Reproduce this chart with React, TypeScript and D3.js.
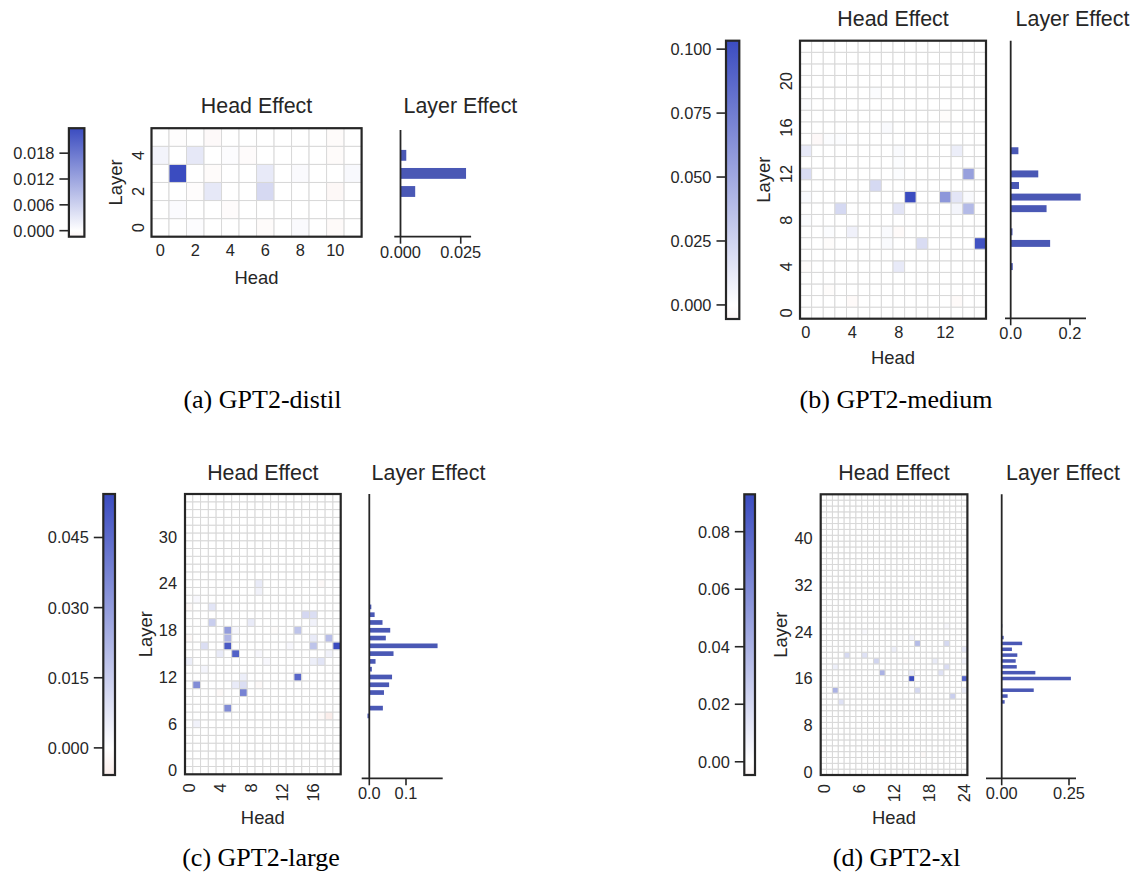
import React from 'react';
import * as d3 from 'd3';

type Cell = [number, number, number]; // [layer, head, value]

// ---------- (a) GPT2-distil ----------
const distilHeadCount = 12;
const distilLayerCount = 6;
const distilCells: Cell[] = [
  [3, 1, 0.0238], [4, 0, 0.0015], [4, 2, 0.003], [2, 3, 0.003], [3, 6, 0.0028], [2, 6, 0.005],
  [5, 3, -0.0008], [3, 3, -0.0006], [4, 5, -0.0005], [5, 10, -0.0006], [4, 10, -0.0006],
  [2, 10, -0.001], [0, 10, -0.0007], [0, 6, -0.0006], [1, 4, -0.0005], [2, 2, -0.0004],
  [3, 11, 0.0008], [3, 8, 0.0006], [1, 1, 0.0005], [0, 2, 0.0004], [5, 1, -0.0003], [4, 4, 0.0004], [0, 8, 0.0006],
];
const distilLayerEffect = [0, 0, 0.0061, 0.0272, 0.0024, 0];
const distilCbDomain = [-0.0014, 0.0238];
const distilCbTicks = [0, 0.006, 0.012, 0.018];
const distilBarDomain = [-0.00257, 0.0293];
const distilBarTicks = [0, 0.025];
const distilHeadTicks = [0, 2, 4, 6, 8, 10];
const distilLayerTicks = [0, 2, 4];

// ---------- (b) GPT2-medium ----------
const mediumHeadCount = 16;
const mediumLayerCount = 24;
const mediumCells: Cell[] = [
  [14, 0, 0.012], [12, 0, 0.02], [14, 13, 0.01], [12, 14, 0.055], [11, 6, 0.022], [10, 9, 0.1033],
  [10, 12, 0.06], [10, 13, 0.015], [10, 14, 0.003], [9, 3, 0.022], [9, 8, 0.015], [9, 13, 0.006],
  [9, 14, 0.04], [10, 0, 0.003], [7, 4, 0.008], [6, 10, 0.02], [6, 15, 0.1], [4, 8, 0.012],
  [15, 1, -0.004], [18, 0, 0.002], [19, 6, 0.002], [16, 7, 0.003], [17, 12, -0.002], [2, 2, -0.002],
  [1, 4, -0.003], [1, 13, -0.003], [6, 2, -0.002], [7, 8, -0.003], [4, 0, -0.002], [15, 2, 0.002],
  [15, 3, 0.002], [8, 0, 0.002], [7, 2, 0.002], [13, 8, 0.002], [14, 8, 0.003], [12, 8, 0.002],
  [7, 7, 0.003], [6, 7, 0.003],
];
const mediumLayerEffect = [0, 0, 0, 0, 0.007, 0, 0.133, 0.006, 0, 0.121, 0.236, 0.028, 0.093, 0, 0.026, 0, 0, 0, 0, 0, 0, 0, 0, 0];
const mediumCbDomain = [-0.0055, 0.1033];
const mediumCbTicks = [0, 0.025, 0.05, 0.075, 0.1];
const mediumBarDomain = [-0.0192, 0.254];
const mediumBarTicks = [0, 0.2];
const mediumHeadTicks = [0, 4, 8, 12];
const mediumLayerTicks = [0, 4, 8, 12, 16, 20];

// ---------- (c) GPT2-large ----------
const largeHeadCount = 20;
const largeLayerCount = 36;
const largeCells: Cell[] = [
  [16, 19, 0.0543], [18, 5, 0.03], [17, 5, 0.022], [16, 5, 0.05], [15, 6, 0.048], [12, 14, 0.046],
  [11, 1, 0.035], [10, 7, 0.038], [8, 5, 0.035], [19, 3, 0.015], [21, 3, 0.008], [16, 2, 0.01],
  [15, 4, 0.006], [14, 0, 0.005], [18, 14, 0.018], [20, 15, 0.012], [20, 16, 0.01], [16, 16, 0.018],
  [17, 18, 0.02], [14, 17, 0.008], [14, 16, 0.005], [15, 18, 0.004], [11, 6, 0.006], [11, 7, 0.01],
  [12, 7, 0.005], [24, 9, 0.006], [23, 9, 0.004], [19, 8, 0.006], [7, 18, -0.0058], [6, 1, 0.004],
  [17, 0, -0.002], [21, 0, -0.002], [24, 17, -0.002], [13, 2, 0.003], [19, 16, 0.004], [17, 16, 0.006],
  [22, 1, 0.002], [18, 6, 0.002], [16, 13, 0.002], [15, 9, 0.002], [14, 10, 0.002], [10, 4, -0.002],
  [18, 11, -0.001], [11, 9, -0.002], [7, 17, -0.002],
];
const largeLayerEffect = [0, 0, 0, 0, 0, 0, 0, -0.005, 0.037, 0, 0.04, 0.054, 0.062, 0.007, 0.017, 0.066, 0.186, 0.045, 0.057, 0.036, 0.0145, 0.0055, 0, 0, 0, 0, 0, 0, 0, 0, 0, 0, 0, 0, 0, 0];
const largeCbDomain = [-0.0058, 0.0543];
const largeCbTicks = [0, 0.015, 0.03, 0.045];
const largeBarDomain = [-0.0207, 0.2];
const largeBarTicks = [0, 0.1];
const largeHeadTicks = [0, 4, 8, 12, 16];
const largeLayerTicks = [0, 6, 12, 18, 24, 30];

// ---------- (d) GPT2-xl ----------
const xlHeadCount = 25;
const xlLayerCount = 48;
const xlCells: Cell[] = [
  [16, 15, 0.093], [16, 24, 0.08], [22, 16, 0.035], [22, 21, 0.02], [20, 4, 0.02], [20, 7, 0.015],
  [19, 9, 0.022], [17, 10, 0.04], [14, 2, 0.04], [12, 3, 0.015], [14, 16, 0.02], [13, 22, 0.025],
  [14, 24, 0.01], [21, 24, 0.012], [18, 21, 0.018], [17, 20, 0.015], [19, 19, 0.01], [17, 15, 0.01],
  [18, 2, 0.008], [21, 12, 0.008], [23, 15, 0.005], [25, 21, 0.004], [24, 7, 0.003], [19, 24, 0.006],
  [3, 17, -0.003], [19, 14, -0.002], [4, 10, -0.002],
];
const xlLayerEffect = [0, 0, 0, 0, 0, 0, 0, 0, 0, 0, 0, 0, 0.011, 0.022, 0.119, 0, 0.257, 0.125, 0.056, 0.052, 0.058, 0.038, 0.076, 0.0074, 0, 0.002, 0, 0, 0, 0, 0, 0, 0, 0, 0, 0, 0, 0, 0, 0, 0, 0, 0, 0, 0, 0, 0, 0];
const xlCbDomain = [-0.0046, 0.093];
const xlCbTicks = [0, 0.02, 0.04, 0.06, 0.08];
const xlBarDomain = [-0.0583, 0.276];
const xlBarTicks = [0, 0.25];
const xlHeadTicks = [0, 6, 12, 18, 24];
const xlLayerTicks = [0, 8, 16, 24, 32, 40];

const captions = ['(a) GPT2-distil', '(b) GPT2-medium', '(c) GPT2-large', '(d) GPT2-xl'];

const panels = [
  { nHeads: distilHeadCount, nLayers: distilLayerCount, cells: distilCells, layerEffect: distilLayerEffect, cbDomain: distilCbDomain, cbTicks: distilCbTicks, cbFmt: '.3f', barDomain: distilBarDomain, barTicks: distilBarTicks, barFmt: '.3f', headTicks: distilHeadTicks, layerTicks: distilLayerTicks, caption: captions[0] },
  { nHeads: mediumHeadCount, nLayers: mediumLayerCount, cells: mediumCells, layerEffect: mediumLayerEffect, cbDomain: mediumCbDomain, cbTicks: mediumCbTicks, cbFmt: '.3f', barDomain: mediumBarDomain, barTicks: mediumBarTicks, barFmt: '.1f', headTicks: mediumHeadTicks, layerTicks: mediumLayerTicks, caption: captions[1] },
  { nHeads: largeHeadCount, nLayers: largeLayerCount, cells: largeCells, layerEffect: largeLayerEffect, cbDomain: largeCbDomain, cbTicks: largeCbTicks, cbFmt: '.3f', barDomain: largeBarDomain, barTicks: largeBarTicks, barFmt: '.1f', headTicks: largeHeadTicks, layerTicks: largeLayerTicks, caption: captions[2] },
  { nHeads: xlHeadCount, nLayers: xlLayerCount, cells: xlCells, layerEffect: xlLayerEffect, cbDomain: xlCbDomain, cbTicks: xlCbTicks, cbFmt: '.2f', barDomain: xlBarDomain, barTicks: xlBarTicks, barFmt: '.2f', headTicks: xlHeadTicks, layerTicks: xlLayerTicks, caption: captions[3] },
];

// Layout (pixel positions on the page)
const layouts = [
  { cx: 68.9, cy: 128.2, cw: 15.5, ch: 108.5, hx: 151.5, hy: 128.2, hw: 210.1, hh: 108.5, b0: 394.3, b1: 471.1, bTop: 130, bAxisY: 236.7, titleY: 113, headY: 283.9, layerX: 115.4, rotY: true, rotX: false, leX: 460.4, capX: 262.5, capY: 408.3 },
  { cx: 726, cy: 40.7, cw: 13.3, ch: 278.3, hx: 800, hy: 40.7, hw: 186, hh: 278, b0: 1005, b1: 1086, bTop: 40.7, bAxisY: 318.3, titleY: 26, headY: 364.3, layerX: 763.3, rotY: true, rotX: false, leX: 1072.5, capX: 896, capY: 408.3 },
  { cx: 103.3, cy: 494, cw: 11.7, ch: 281, hx: 185, hy: 494, hw: 155.7, hh: 280.3, b0: 361.7, b1: 442.7, bTop: 494, bAxisY: 778.3, titleY: 480, headY: 824, layerX: 145, rotY: false, rotX: true, leX: 428.5, capX: 261, capY: 866 },
  { cx: 744.3, cy: 494.3, cw: 10.7, ch: 280.7, hx: 820.7, hy: 494.3, hw: 146.7, hh: 280.7, b0: 986, b1: 1076, bTop: 494.3, bAxisY: 778.3, titleY: 480, headY: 824, layerX: 780, rotY: false, rotX: true, leX: 1063, capX: 896.7, capY: 866 },
];

const FONT = "'Liberation Sans', Arial, Helvetica, sans-serif";
const SERIF = "'Liberation Serif', 'Times New Roman', serif";
const INK = '#262626';
const POS = '#3b4cc0';
const NEG = '#d2553f';
const BAR = '#4a58b5';
const GRID = '#d8d8d8';
const TICK_FS = 16.4;
const LABEL_FS = 18.4;
const TITLE_FS = 21.4;

function Panel({ d, L, idx }: { d: any; L: any; idx: number }) {
  const heads = d3.range(d.nHeads);
  const layers = d3.range(d.nLayers);
  const x = d3.scaleBand<number>().domain(heads).range([L.hx, L.hx + L.hw]);
  const y = d3.scaleBand<number>().domain(layers).range([L.hy + L.hh, L.hy]);
  const vmax = d.cbDomain[1];
  const posI = d3.interpolateRgb('#ffffff', POS);
  const negI = d3.interpolateRgb('#ffffff', NEG);
  const color = (v: number) => (v >= 0 ? posI(Math.min(1, v / vmax)) : negI(Math.min(1, -v / vmax)));

  const grid = new Map<string, number>();
  d.cells.forEach(([l, h, v]: Cell) => grid.set(`${l}-${h}`, v));

  const cbScale = d3.scaleLinear().domain(d.cbDomain).range([L.cy + L.ch, L.cy]);
  const zeroOff = (0 - d.cbDomain[0]) / (d.cbDomain[1] - d.cbDomain[0]);
  const cbFmt = d3.format(d.cbFmt);

  const bx = d3.scaleLinear().domain(d.barDomain).range([L.b0, L.b1]);
  const by = d3.scaleBand<number>().domain(layers).range([L.hy + L.hh, L.hy]).paddingInner(0.4).paddingOuter(0.2);
  const barFmt = d3.format(d.barFmt);

  const hcx = L.hx + L.hw / 2;
  const hcy = L.hy + L.hh / 2;
  const gid = `cbgrad${idx}`;

  return (
    <g fontFamily={FONT} fill={INK}>
      {/* colorbar */}
      <defs>
        <linearGradient id={gid} x1="0" y1="1" x2="0" y2="0">
          <stop offset="0" stopColor={color(d.cbDomain[0])} />
          <stop offset={zeroOff} stopColor="#ffffff" />
          <stop offset="1" stopColor={color(d.cbDomain[1])} />
        </linearGradient>
      </defs>
      <rect x={L.cx} y={L.cy} width={L.cw} height={L.ch} fill={`url(#${gid})`} stroke={INK} strokeWidth={2.2} />
      {d.cbTicks.map((t: number) => (
        <g key={`cb${t}`}>
          <line x1={L.cx - 9.5} x2={L.cx} y1={cbScale(t)} y2={cbScale(t)} stroke={INK} strokeWidth={1.6} />
          <text x={L.cx - 14.5} y={cbScale(t)} dy="0.36em" textAnchor="end" fontSize={TICK_FS}>{cbFmt(t)}</text>
        </g>
      ))}

      {/* heatmap */}
      {layers.map((l) =>
        heads.map((h) => (
          <rect key={`c${l}-${h}`} x={x(h)} y={y(l)} width={x.bandwidth()} height={y.bandwidth()}
            fill={color(grid.get(`${l}-${h}`) ?? 0)} stroke={GRID} strokeWidth={1} />
        ))
      )}
      <rect x={L.hx} y={L.hy} width={L.hw} height={L.hh} fill="none" stroke={INK} strokeWidth={2.2} />
      <text x={hcx} y={L.titleY} textAnchor="middle" fontSize={TITLE_FS}>Head Effect</text>
      <text x={hcx} y={L.headY} textAnchor="middle" fontSize={LABEL_FS}>Head</text>
      <text transform={`translate(${L.layerX + 6.5},${hcy}) rotate(-90)`} textAnchor="middle" fontSize={LABEL_FS}>Layer</text>
      {d.headTicks.map((t: number) => {
        const cx = (x(t) as number) + x.bandwidth() / 2;
        return L.rotX ? (
          <text key={`hx${t}`} transform={`translate(${cx + 5.9},${L.hy + L.hh + 9}) rotate(-90)`} textAnchor="end" fontSize={TICK_FS}>{t}</text>
        ) : (
          <text key={`hx${t}`} x={cx} y={L.hy + L.hh + 19.5} textAnchor="middle" fontSize={TICK_FS}>{t}</text>
        );
      })}
      {d.layerTicks.map((t: number) => {
        const cy = (y(t) as number) + y.bandwidth() / 2;
        return L.rotY ? (
          <text key={`ly${t}`} transform={`translate(${L.hx - 8},${cy}) rotate(-90)`} textAnchor="middle" fontSize={TICK_FS}>{t}</text>
        ) : (
          <text key={`ly${t}`} x={L.hx - 8} y={cy} dy="0.36em" textAnchor="end" fontSize={TICK_FS}>{t}</text>
        );
      })}

      {/* layer effect bars */}
      {d.layerEffect.map((v: number, l: number) => (
        <rect key={`b${l}`} x={Math.min(bx(0), bx(v))} y={by(l)} width={Math.abs(bx(v) - bx(0))} height={by.bandwidth()} fill={BAR} />
      ))}
      <line x1={bx(0)} x2={bx(0)} y1={L.bTop} y2={L.bAxisY} stroke={INK} strokeWidth={1.8} />
      <line x1={L.b0} x2={L.b1} y1={L.bAxisY} y2={L.bAxisY} stroke={INK} strokeWidth={1.8} />
      {d.barTicks.map((t: number) => (
        <g key={`bt${t}`}>
          <line x1={bx(t)} x2={bx(t)} y1={L.bAxisY} y2={L.bAxisY + 7} stroke={INK} strokeWidth={1.6} />
          <text x={bx(t)} y={L.bAxisY + 21} textAnchor="middle" fontSize={TICK_FS}>{barFmt(t)}</text>
        </g>
      ))}
      <text x={L.leX} y={L.titleY} textAnchor="middle" fontSize={TITLE_FS}>Layer Effect</text>

      {/* caption */}
      <text x={L.capX} y={L.capY} textAnchor="middle" fontSize={26} fontFamily={SERIF} fill="#000">{d.caption}</text>
    </g>
  );
}

export default function App() {
  return (
    <svg width={1138} height={878} style={{ position: 'absolute', left: 0, top: 0, background: '#fff' }}>
      <rect width={1138} height={878} fill="#fff" />
      {panels.map((d, i) => (
        <Panel key={i} d={d} L={layouts[i]} idx={i} />
      ))}
    </svg>
  );
}
